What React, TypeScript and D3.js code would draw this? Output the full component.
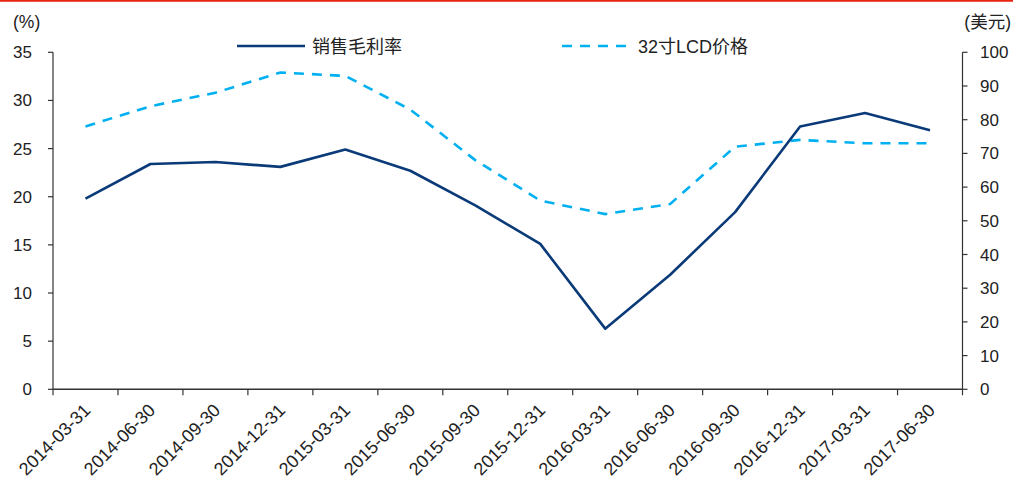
import React from "react";
import * as d3 from "d3";

const categories = [
  "2014-03-31", "2014-06-30", "2014-09-30", "2014-12-31",
  "2015-03-31", "2015-06-30", "2015-09-30", "2015-12-31",
  "2016-03-31", "2016-06-30", "2016-09-30", "2016-12-31",
  "2017-03-31", "2017-06-30",
];
const grossMargin = [19.8, 23.4, 23.6, 23.1, 24.9, 22.7, 19.1, 15.1, 6.3, 11.9, 18.4, 27.3, 28.7, 26.9];
const lcdPrice = [78, 84, 88, 94, 93, 83, 68, 56, 52, 55, 72, 74, 73, 73];
const leftTicks = [0, 5, 10, 15, 20, 25, 30, 35];
const rightTicks = [0, 10, 20, 30, 40, 50, 60, 70, 80, 90, 100];

const W = 1013;
const H = 481;
const FONT = "'Liberation Sans', Arial, 'Noto Sans CJK SC', sans-serif";
const NAVY = "#0a3a78";
const SKY = "#00b0f0";
const AXIS = "#333333";

export default function App() {
  const left = 53;
  const right = 962.5;
  const top = 52.3;
  const bottom = 389.3;

  const x = d3.scaleBand<string>().domain(categories).range([left, right]);
  const yL = d3.scaleLinear().domain([0, 35]).range([bottom, top]);
  const yR = d3.scaleLinear().domain([0, 100]).range([bottom, top]);
  const cx = (c: string) => (x(c) as number) + x.bandwidth() / 2;

  const marginLine = d3
    .line<number>()
    .x((_, i) => cx(categories[i]))
    .y((d) => yL(d));
  const priceLine = d3
    .line<number>()
    .x((_, i) => cx(categories[i]))
    .y((d) => yR(d));

  const boundaries = categories.map((c) => x(c) as number).concat([right]);

  return (
    <svg
      width={W}
      height={H}
      style={{ position: "absolute", left: 0, top: 0, background: "#fff" }}
      fontFamily={FONT}
    >
      <rect x={0} y={0} width={W} height={H} fill="#fff" />
      <line x1={0} x2={W} y1={0.8} y2={0.8} stroke="#e8230f" strokeWidth={1.8} />

      {/* unit labels */}
      <text x={13} y={28} fontSize={17.5} fill="#222">(%)</text>
      <text x={1011} y={28} fontSize={17.5} fill="#222" textAnchor="end">(美元)</text>

      {/* legend */}
      <line x1={237} x2={305} y1={46} y2={46} stroke={NAVY} strokeWidth={2.6} />
      <text x={312} y={52.5} fontSize={18} fill="#222">销售毛利率</text>
      <line x1={562} x2={628} y1={46} y2={46} stroke={SKY} strokeWidth={2.6} strokeDasharray="10 8" />
      <text x={638} y={52.5} fontSize={18} fill="#222">32寸LCD价格</text>

      {/* left axis */}
      <line x1={left} x2={left} y1={top} y2={bottom} stroke={AXIS} strokeWidth={1.2} />
      {leftTicks.map((t) => (
        <g key={"l" + t}>
          <line x1={left - 5} x2={left} y1={yL(t)} y2={yL(t)} stroke={AXIS} strokeWidth={1.2} />
          <text x={32} y={yL(t) + 6} fontSize={17} textAnchor="end" fill="#222">{t}</text>
        </g>
      ))}

      {/* right axis */}
      <line x1={right} x2={right} y1={top} y2={bottom} stroke={AXIS} strokeWidth={1.2} />
      {rightTicks.map((t) => (
        <g key={"r" + t}>
          <line x1={right} x2={right + 5} y1={yR(t)} y2={yR(t)} stroke={AXIS} strokeWidth={1.2} />
          <text x={980} y={yR(t) + 6} fontSize={17} fill="#222">{t}</text>
        </g>
      ))}

      {/* x axis */}
      <line x1={left} x2={right} y1={bottom} y2={bottom} stroke={AXIS} strokeWidth={1.4} />
      {boundaries.map((b, i) => (
        <line key={"t" + i} x1={b} x2={b} y1={bottom} y2={bottom + 6} stroke={AXIS} strokeWidth={1.2} />
      ))}
      {categories.map((c) => {
        const ax = cx(c) + 6;
        const ay = bottom + 22;
        return (
          <text
            key={c}
            x={ax}
            y={ay}
            fontSize={18}
            textAnchor="end"
            fill="#222"
            transform={`rotate(-45 ${ax} ${ay})`}
          >
            {c}
          </text>
        );
      })}

      {/* series */}
      <path d={priceLine(lcdPrice) ?? ""} fill="none" stroke={SKY} strokeWidth={2.6} strokeDasharray="10 8" />
      <path d={marginLine(grossMargin) ?? ""} fill="none" stroke={NAVY} strokeWidth={2.6} strokeLinejoin="round" />
    </svg>
  );
}
